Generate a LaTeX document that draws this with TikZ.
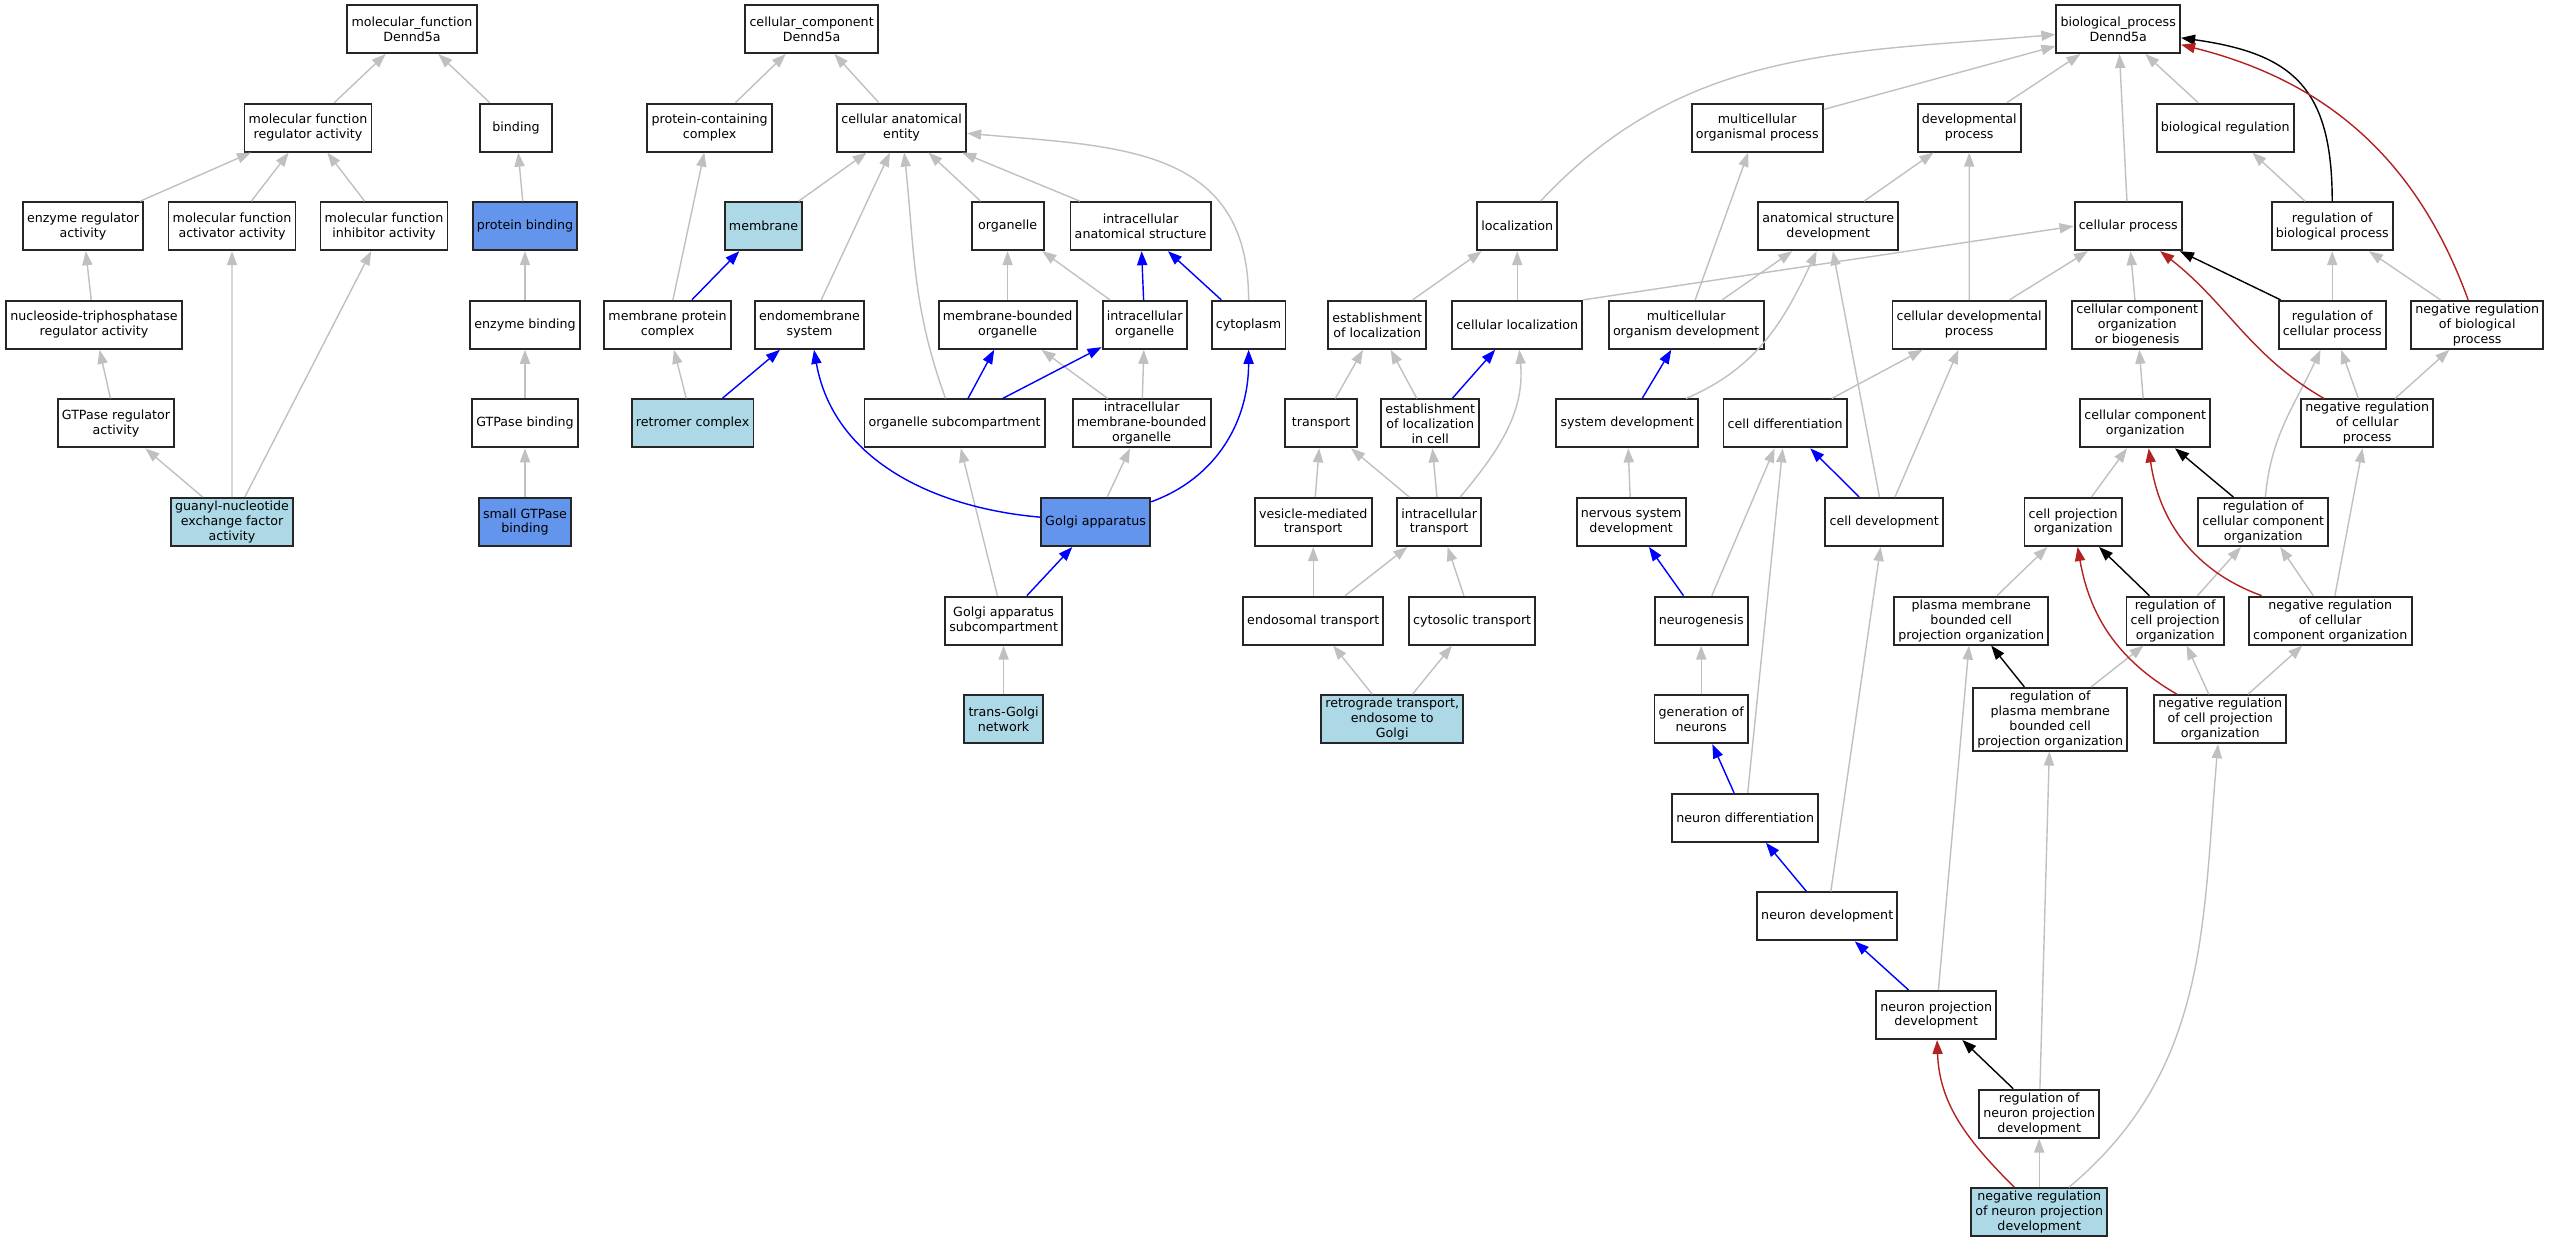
\documentclass[tikz,border=0pt]{standalone}
\usepackage{fontspec}
\setmainfont{DejaVu Sans}
\usepackage{tikz}
\usetikzlibrary{arrows.meta}
\definecolor{lblue}{HTML}{ADD8E6}
\definecolor{cfblue}{HTML}{6495ED}
\definecolor{egray}{HTML}{C0C0C0}
\definecolor{fbrick}{HTML}{B22222}

\begin{document}
\begin{tikzpicture}[->,>={Triangle[length=4pt,width=2.9pt]},line width=0.4pt,node distance=0.986cm,
  go node/.style={rectangle,draw=black!85,line width=0.55pt,fill=white,align=center,
    minimum width=0.72cm,minimum height=0.48cm,inner xsep=1.2pt,inner ysep=0.8pt,
    font=\fontsize{3.6}{4.25}\selectfont},
  hit node/.style={go node,fill=lblue},
  key node/.style={go node,fill=cfblue},
  is a/.style={color=egray},
  part of/.style={color=blue},
  regulates/.style={color=black},
  neg regulates/.style={color=fbrick}]
  \useasboundingbox (0,0) rectangle (25.49,-12.43);

  % molecular function
  \node[go node] (mfroot) at (4.12,-0.29) {molecular\_function\\Dennd5a};
  \node[go node] (mfreg) [below of=mfroot, xshift=-1.04cm] {molecular function\\regulator activity};
  \node[go node] (binding) [below of=mfroot, xshift=1.04cm] {binding};
  \node[go node] (enzreg) [below of=mfreg, xshift=-2.25cm] {enzyme regulator\\activity};
  \node[go node] (mfact) [below of=mfreg, xshift=-0.76cm] {molecular function\\activator activity};
  \node[go node] (mfinh) [below of=mfreg, xshift=0.76cm] {molecular function\\inhibitor activity};
  \node[key node] (protbind) [below of=binding, xshift=0.09cm] {protein binding};
  \node[go node] (ntp) [below of=enzreg, xshift=0.11cm] {nucleoside-triphosphatase\\regulator activity};
  \node[go node] (enzbind) [below of=protbind] {enzyme binding};
  \node[go node] (gtpreg) [below of=ntp, xshift=0.22cm] {GTPase regulator\\activity};
  \node[go node] (gtpbind) [below of=enzbind] {GTPase binding};
  \node[hit node] (gef) [below of=gtpreg, xshift=1.16cm] {guanyl-nucleotide\\exchange factor\\activity};
  \node[key node] (smallgtp) [below of=gtpbind] {small GTPase\\binding};

  % cellular component
  \node[go node] (ccroot) [right of=mfroot, xshift=3.01cm] {cellular\_component\\Dennd5a};
  \node[go node] (pcc) [below of=ccroot, xshift=-1.02cm] {protein-containing\\complex};
  \node[go node] (cae) [below of=ccroot, xshift=0.90cm] {cellular anatomical\\entity};
  \node[hit node] (membrane) [below of=cae, xshift=-1.38cm] {membrane};
  \node[go node] (organelle) [below of=cae, xshift=1.06cm] {organelle};
  \node[go node] (ias) [below of=cae, xshift=2.39cm] {intracellular\\anatomical structure};
  \node[go node] (mpc) [below of=membrane, xshift=-0.96cm] {membrane protein\\complex};
  \node[go node] (endomem) [below of=membrane, xshift=0.46cm] {endomembrane\\system};
  \node[go node] (membo) [below of=organelle] {membrane-bounded\\organelle};
  \node[go node] (io) [below of=ias, xshift=0.04cm] {intracellular\\organelle};
  \node[go node] (cytoplasm) [below of=ias, xshift=1.08cm] {cytoplasm};
  \node[hit node] (retromer) [below of=mpc, xshift=0.25cm] {retromer complex};
  \node[go node] (orgsub) [below of=membo, xshift=-0.53cm] {organelle subcompartment};
  \node[go node] (imbo) [below of=io, xshift=-0.03cm] {intracellular\\membrane-bounded\\organelle};
  \node[key node] (golgi) [below of=imbo, xshift=-0.46cm] {Golgi apparatus};
  \node[go node] (golgisub) [below of=golgi, xshift=-0.92cm] {Golgi apparatus\\subcompartment};
  \node[hit node] (tgn) [below of=golgisub] {trans-Golgi\\network};

  % biological process
  \node[go node] (bproot) [right of=ccroot, xshift=12.08cm] {biological\_process\\Dennd5a};
  \node[go node] (mcop) [below of=bproot, xshift=-3.61cm] {multicellular\\organismal process};
  \node[go node] (devproc) [below of=bproot, xshift=-1.49cm] {developmental\\process};
  \node[go node] (bioreg) [below of=bproot, xshift=1.07cm] {biological regulation};
  \node[go node] (localization) [below of=mcop, xshift=-2.40cm] {localization};
  \node[go node] (asd) [below of=mcop, xshift=0.71cm] {anatomical structure\\development};
  \node[go node] (cellproc) [below of=devproc, xshift=1.59cm] {cellular process};
  \node[go node] (regbp) [below of=bioreg, xshift=1.07cm] {regulation of\\biological process};
  \node[go node] (estloc) [below of=localization, xshift=-1.40cm] {establishment\\of localization};
  \node[go node] (cellloc) [below of=localization] {cellular localization};
  \node[go node] (mcod) [below of=asd, xshift=-1.42cm] {multicellular\\organism development};
  \node[go node] (cdp) [below of=asd, xshift=1.41cm] {cellular developmental\\process};
  \node[go node] (ccob) [below of=cellproc, xshift=0.09cm] {cellular component\\organization\\or biogenesis};
  \node[go node] (regcp) [below of=regbp] {regulation of\\cellular process};
  \node[go node] (negregbp) [below of=regbp, xshift=1.45cm] {negative regulation\\of biological\\process};
  \node[go node] (transport) [below of=estloc, xshift=-0.56cm] {transport};
  \node[go node] (eslic) [below of=estloc, xshift=0.53cm] {establishment\\of localization\\in cell};
  \node[go node] (syd) [below of=mcod, xshift=-0.59cm] {system development};
  \node[go node] (celldiff) [below of=mcod, xshift=0.99cm] {cell differentiation};
  \node[go node] (cco) [below of=ccob, xshift=0.08cm] {cellular component\\organization};
  \node[go node] (negregcp) [below of=regcp, xshift=0.35cm] {negative regulation\\of cellular\\process};
  \node[go node] (vesmed) [below of=transport, xshift=-0.08cm] {vesicle-mediated\\transport};
  \node[go node] (intratrans) [below of=eslic, xshift=0.09cm] {intracellular\\transport};
  \node[go node] (nsd) [below of=syd, xshift=0.04cm] {nervous system\\development};
  \node[go node] (celldev) [below of=celldiff, xshift=0.99cm] {cell development};
  \node[go node] (cpo) [below of=cco, xshift=-0.72cm] {cell projection\\organization};
  \node[go node] (regcco) [below of=cco, xshift=1.18cm] {regulation of\\cellular component\\organization};
  \node[go node] (endotrans) [below of=vesmed] {endosomal transport};
  \node[go node] (cytotrans) [below of=intratrans, xshift=0.33cm] {cytosolic transport};
  \node[go node] (neurog) [below of=nsd, xshift=0.70cm] {neurogenesis};
  \node[go node] (pmbcpo) [below of=cpo, xshift=-1.02cm] {plasma membrane\\bounded cell\\projection organization};
  \node[go node] (regcpo) [below of=cpo, xshift=1.02cm] {regulation of\\cell projection\\organization};
  \node[go node] (negregcco) [below of=regcco, xshift=0.67cm] {negative regulation\\of cellular\\component organization};
  \node[hit node] (retro) [below of=endotrans, xshift=0.79cm] {retrograde transport,\\endosome to\\Golgi};
  \node[go node] (genneur) [below of=neurog] {generation of\\neurons};
  \node[go node] (regpmbcpo) [below of=pmbcpo, xshift=0.79cm] {regulation of\\plasma membrane\\bounded cell\\projection organization};
  \node[go node] (negregcpo) [below of=regcpo, xshift=0.45cm] {negative regulation\\of cell projection\\organization};
  \node[go node] (neurdiff) [below of=genneur, xshift=0.44cm] {neuron differentiation};
  \node[go node] (neurdev) [below of=neurdiff, xshift=0.82cm] {neuron development};
  \node[go node] (npd) [below of=neurdev, xshift=1.09cm] {neuron projection\\development};
  \node[go node] (regnpd) [below of=npd, xshift=1.03cm] {regulation of\\neuron projection\\development};
  \node[hit node] (negregnpd) [below of=regnpd] {negative regulation\\of neuron projection\\development};

  \path[is a]
    (mfreg) edge (mfroot)
    (binding) edge (mfroot)
    (enzreg) edge (mfreg)
    (mfact) edge (mfreg)
    (mfinh) edge (mfreg)
    (protbind) edge (binding)
    (ntp) edge (enzreg)
    (enzbind) edge (protbind)
    (gtpreg) edge (ntp)
    (gtpbind) edge (enzbind)
    (gef) edge (gtpreg)
    (gef) edge (mfact)
    (gef) edge (mfinh)
    (smallgtp) edge (gtpbind)
    (pcc) edge (ccroot)
    (cae) edge (ccroot)
    (membrane) edge (cae)
    (organelle) edge (cae)
    (ias) edge (cae)
    (endomem) edge (cae)
    (orgsub) edge[out=110,in=-84] (cae)
    (cytoplasm) edge[out=90,in=-5,looseness=1.2] (cae)
    (mpc) edge (pcc)
    (retromer) edge (mpc)
    (membo) edge (organelle)
    (io) edge (organelle)
    (imbo) edge (membo)
    (imbo) edge (io)
    (golgi) edge (imbo)
    (golgisub) edge (orgsub)
    (tgn) edge (golgisub)
    (localization) edge[out=47,in=185] (bproot)
    (estloc) edge (localization)
    (cellloc) edge (localization)
    (cellloc.north east) edge (cellproc.west)
    (transport) edge (estloc)
    (eslic) edge (estloc)
    (vesmed) edge (transport)
    (intratrans) edge (transport)
    (intratrans) edge (eslic)
    (intratrans) edge[out=50,in=-85] (cellloc)
    (endotrans) edge (vesmed)
    (endotrans) edge (intratrans)
    (cytotrans) edge (intratrans)
    (retro) edge (endotrans)
    (retro) edge (cytotrans)
    (mcop) edge (bproot)
    (devproc) edge (bproot)
    (cellproc) edge (bproot)
    (bioreg) edge (bproot)
    (mcod) edge (mcop)
    (mcod) edge (asd)
    (asd) edge (devproc)
    (cdp) edge (devproc)
    (cdp) edge (cellproc)
    (ccob) edge (cellproc)
    (regbp) edge (bioreg)
    (regcp) edge (regbp)
    (negregbp) edge (regbp)
    (negregcp) edge (regcp)
    (negregcp) edge (negregbp)
    (syd) edge[out=23,in=-115] (asd)
    (nsd) edge (syd)
    (neurog) edge (celldiff)
    (genneur) edge (neurog)
    (neurdiff) edge (celldiff)
    (celldiff) edge (cdp)
    (celldev) edge (asd)
    (celldev) edge (cdp)
    (neurdev) edge (celldev)
    (npd) edge (pmbcpo)
    (regnpd) edge (regpmbcpo)
    (negregnpd) edge (regnpd)
    (negregnpd) edge[out=40,in=-95] (negregcpo)
    (cco) edge (ccob)
    (cpo) edge (cco)
    (regcco) edge[out=85,in=-115] (regcp)
    (negregcco) edge (regcco)
    (negregcco) edge (negregcp)
    (pmbcpo) edge (cpo)
    (regcpo) edge (regcco)
    (negregcpo) edge (regcpo)
    (negregcpo) edge (negregcco)
    (regpmbcpo) edge (regcpo);

  \path[part of]
    (mpc) edge (membrane)
    (retromer) edge (endomem)
    (golgi) edge[out=175,in=-80] (endomem)
    (golgi) edge[out=20,in=-90] (cytoplasm)
    (io) edge (ias)
    (cytoplasm) edge (ias)
    (orgsub) edge (membo)
    (orgsub) edge (io)
    (golgisub) edge (golgi)
    (eslic) edge (cellloc)
    (syd) edge (mcod)
    (neurog) edge (nsd)
    (neurdiff) edge (genneur)
    (celldev) edge (celldiff)
    (neurdev) edge (neurdiff)
    (npd) edge (neurdev);

  \path[regulates]
    (regbp) edge[out=90,in=-8,looseness=1.3] (bproot)
    (regcp) edge (cellproc)
    (regcco) edge (cco)
    (regcpo) edge (cpo)
    (regpmbcpo) edge (pmbcpo)
    (regnpd) edge (npd);

  \path[neg regulates]
    (negregbp) edge[out=110,in=-14] (bproot)
    (negregcp) edge[out=150,in=-38] (cellproc)
    (negregcco) edge[out=160,in=-82] (cco)
    (negregcpo) edge[out=150,in=-80] (cpo)
    (negregnpd) edge[out=135,in=-88] (npd);
\end{tikzpicture}
\end{document}
